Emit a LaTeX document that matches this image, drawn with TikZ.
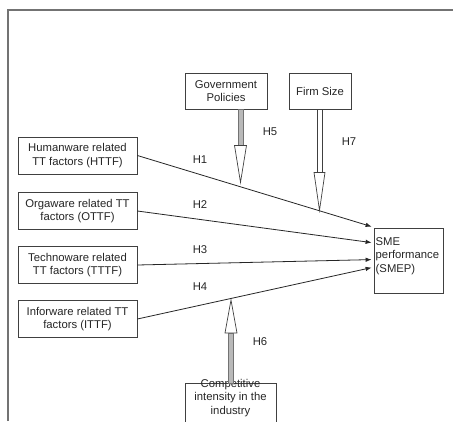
\documentclass[tikz,border=0pt]{standalone}
\usepackage{fontspec}
\setmainfont{Liberation Sans}
\usetikzlibrary{arrows.meta,calc}
\newcommand{\fs}{\fontsize{11.3}{13.5}\selectfont}
\tikzset{
  box/.style={draw=black!75, line width=0.8pt, align=center, font=\fs, inner sep=0pt, text=black!85},
  lbl/.style={font=\fs, text=black!85, inner sep=0pt},
  conn/.style={draw=black!85, line width=0.8pt, -{Latex[length=6pt,width=4.5pt]}},
  grayshaft/.style={fill=gray!55, draw=black!55, line width=0.5pt},
  whiteshaft/.style={fill=white, draw=black!75, line width=0.7pt},
  openhead/.style={fill=white, draw=black!75, line width=0.7pt},
  frame/.style={draw=black!55, line width=1.4pt}
}
\begin{document}
\begin{tikzpicture}[x=1pt,y=-1pt]
\useasboundingbox (0,0) rectangle (453,421);
\fill[white] (0,0) rectangle (453,421);
% outer frame
\coordinate (fa) at (8,421);
\coordinate (fb) at (8,10);
\coordinate (fc) at (453,10);
\draw[frame] (fa) -- (fb) -- (fc);

% boxes
\node[box, minimum width=119pt, minimum height=37pt] (httf) at (77.5,155.5) {Humanware related\\TT factors (HTTF)};
\node[box, minimum width=119pt, minimum height=37pt] (ottf) at (77.5,211) {Orgaware related TT\\factors (OTTF)};
\node[box, minimum width=119pt, minimum height=37pt] (tttf) at (77.5,265) {Technoware related\\TT factors (TTTF)};
\node[box, minimum width=119pt, minimum height=37pt] (ittf) at (77.5,319) {Inforware related TT\\factors (ITTF)};
\node[box, minimum width=82pt, minimum height=36pt] (gov) at (226,91) {Government\\Policies};
\node[box, minimum width=62pt, minimum height=36pt] (firm) at (320,91) {Firm Size};
\node[box, minimum width=69pt, minimum height=65pt] (sme) at (408.5,260.5) {};
\node[lbl, anchor=west, align=left] (smetext) at (375.5,256) {SME\\performance\\(SMEP)};
\node[box, minimum width=91pt, minimum height=50pt, anchor=north] (comp) at (230.5,383) {};
\node[lbl, align=center] (comptext) at (230.5,398) {Competitive\\intensity in the\\industry};

% connector targets on SME
\coordinate (t1) at ($(sme.north west)+(-2,-1)$);
\coordinate (t2) at ($(sme.north west)+(-2,15)$);
\coordinate (t3) at ($(sme.north west)+(-2,32)$);
\coordinate (t4) at ($(sme.north west)+(-2,40)$);
\draw[conn] (httf.east) -- (t1);
\draw[conn] (ottf.east) -- (t2);
\draw[conn] (tttf.east) -- (t3);
\draw[conn] (ittf.east) -- (t4);

% moderator arrows
% Government Policies
\coordinate (gs) at ($(gov.south)+(14.5,0)$);
\coordinate (gh) at ($(gs)+(0,36)$);
\coordinate (gt) at ($(gs)+(0,73)$);
\draw[grayshaft] ($(gs)+(-2.5,0)$) rectangle ($(gh)+(2.5,0)$);
\draw[openhead] ($(gh)+(-6,0)$) -- ($(gh)+(6,0)$) -- (gt) -- cycle;
% Firm Size
\coordinate (fs) at ($(firm.south)+(-0.5,0)$);
\coordinate (fh) at ($(fs)+(0,63)$);
\coordinate (ft) at ($(fs)+(0,101)$);
\draw[whiteshaft] ($(fs)+(-2.5,0)$) rectangle ($(fh)+(2.5,0)$);
\draw[openhead] ($(fh)+(-5.5,0)$) -- ($(fh)+(5.5,0)$) -- (ft) -- cycle;
% Competitive intensity
\coordinate (cs) at ($(comp.north)+(0.5,0)$);
\coordinate (ch) at ($(cs)+(0,-50)$);
\coordinate (ct) at ($(cs)+(0,-83)$);
\draw[grayshaft] ($(cs)+(-2.5,0)$) rectangle ($(ch)+(2.5,0)$);
\draw[openhead] ($(ch)+(-6,0)$) -- ($(ch)+(6,0)$) -- (ct) -- cycle;

% labels
\node[lbl] (h1) at (200,160) {H1};
\node[lbl] (h2) at (200,205) {H2};
\node[lbl] (h3) at (200,250) {H3};
\node[lbl] (h4) at (200,287) {H4};
\node[lbl] (h5) at (270,132) {H5};
\node[lbl] (h6) at (260,342) {H6};
\node[lbl] (h7) at (349,142) {H7};
\end{tikzpicture}
\end{document}
